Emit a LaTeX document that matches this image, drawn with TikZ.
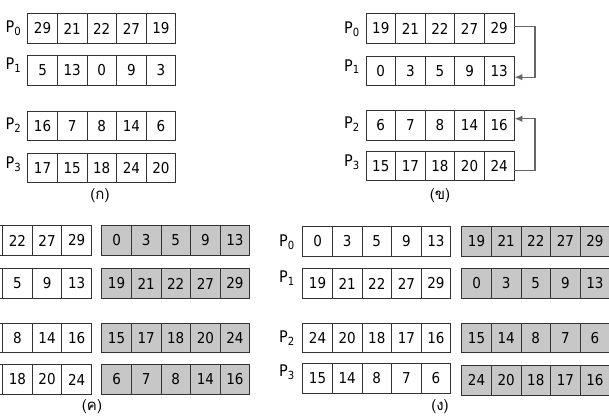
\documentclass[tikz,border=0pt]{standalone}
\usepackage{fontspec}
\setmainfont{DejaVu Sans Condensed}
\newfontfamily\thaifont[Script=Thai]{Loma}
\usetikzlibrary{arrows.meta}
\newcommand\cellrow[5]{\foreach \v [count=\i] in {#5}{\node[cell,#4] (#1c\i) at ({#2+(\i-1)*29.6},#3) {\v};}}
\begin{document}
\begin{tikzpicture}[x=1pt,y=-1pt,
  cell/.style={draw=black!80, line width=0.9pt, minimum width=29.6pt, minimum height=29.5pt, inner sep=0pt, anchor=north west, font=\fontsize{15}{15}\selectfont},
  plain/.style={fill=white},
  shaded/.style={fill=black!22},
  plabel/.style={font=\fontsize{16}{16}\selectfont, inner sep=0pt},
  captext/.style={font=\thaifont\fontsize{15}{15}\selectfont, inner sep=0pt},
  link/.style={draw=black!60, line width=1.3pt, -{Latex[length=8pt,width=6.5pt]}}]
\clip (0,0) rectangle (609,416);
% (a)
\cellrow{A0}{27.3}{13.3}{plain}{29,21,22,27,19}
\cellrow{A1}{27.3}{55.3}{plain}{5,13,0,9,3}
\cellrow{A2}{27.3}{110.7}{plain}{16,7,8,14,6}
\cellrow{A3}{27.3}{152.7}{plain}{17,15,18,24,20}
\node[plabel] (la0) at (13.5,28) {P\textsubscript{0}};
\node[plabel] (la1) at (13.5,65) {P\textsubscript{1}};
\node[plabel] (la2) at (13.5,125) {P\textsubscript{2}};
\node[plabel] (la3) at (13.5,164) {P\textsubscript{3}};
\node[captext] (capa) at (100,196) {(ก)};
% (b)
\cellrow{B0}{365.5}{13.3}{plain}{19,21,22,27,29}
\cellrow{B1}{365.5}{55.5}{plain}{0,3,5,9,13}
\cellrow{B2}{365.5}{110.3}{plain}{6,7,8,14,16}
\cellrow{B3}{365.5}{150.5}{plain}{15,17,18,20,24}
\node[plabel] (lb0) at (352,29) {P\textsubscript{0}};
\node[plabel] (lb1) at (352,66.7) {P\textsubscript{1}};
\node[plabel] (lb2) at (352,124) {P\textsubscript{2}};
\node[plabel] (lb3) at (352,162) {P\textsubscript{3}};
\node[captext] (capb) at (440,196) {(ข)};
\draw[link] ([yshift=2.35pt]B0c5.east) -- ++(20.6,0) |- ([yshift=-6.45pt]B1c5.east);
\draw[link] ([yshift=-4.75pt]B3c5.east) -- ++(20.6,0) |- ([yshift=6.75pt]B2c5.east);
% (c) -- the first two cells of each white row lie outside the frame
\cellrow{C0}{-57}{225.3}{plain}{{},{},22,27,29}
\cellrow{C1}{-57}{268.3}{plain}{{},{},5,9,13}
\cellrow{C2}{-57}{322.7}{plain}{{},{},8,14,16}
\cellrow{C3}{-57}{364.3}{plain}{{},{},18,20,24}
\cellrow{G0}{101.3}{225.3}{shaded}{0,3,5,9,13}
\cellrow{G1}{101.3}{268.3}{shaded}{19,21,22,27,29}
\cellrow{G2}{101.3}{322.7}{shaded}{15,17,18,20,24}
\cellrow{G3}{101.3}{364.3}{shaded}{6,7,8,14,16}
\node[captext] (capc) at (92,406.5) {(ค)};
% (d)
\cellrow{D0}{302.3}{226}{plain}{0,3,5,9,13}
\cellrow{D1}{302.3}{268.3}{plain}{19,21,22,27,29}
\cellrow{D2}{302.3}{322.7}{plain}{24,20,18,17,16}
\cellrow{D3}{302.3}{363}{plain}{15,14,8,7,6}
\cellrow{H0}{461.3}{226}{shaded}{19,21,22,27,29}
\cellrow{H1}{461.3}{268.3}{shaded}{0,3,5,9,13}
\cellrow{H2}{461.3}{322.7}{shaded}{15,14,8,7,6}
\cellrow{H3}{461.3}{365}{shaded}{24,20,18,17,16}
\node[plabel] (ld0) at (287,242) {P\textsubscript{0}};
\node[plabel] (ld1) at (287,278) {P\textsubscript{1}};
\node[plabel] (ld2) at (287,338) {P\textsubscript{2}};
\node[plabel] (ld3) at (287,372) {P\textsubscript{3}};
\node[captext] (capd) at (440,406.5) {(ง)};
\end{tikzpicture}
\end{document}
